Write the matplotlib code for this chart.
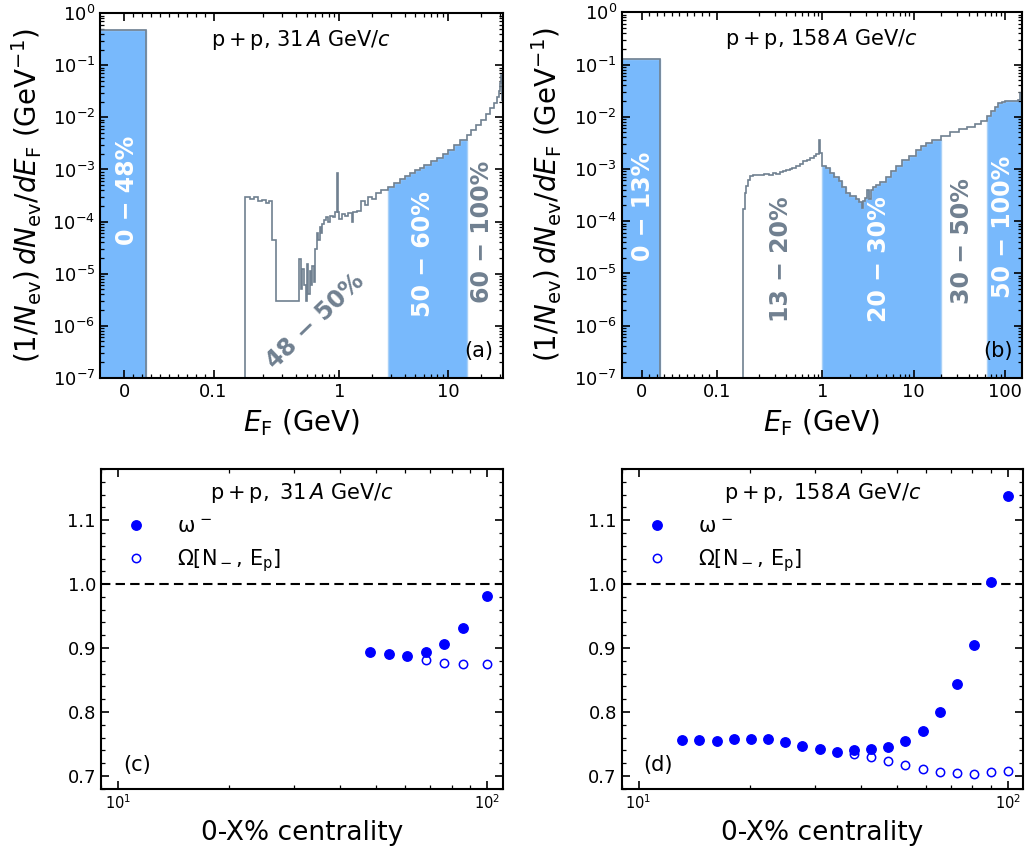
import numpy as np
import matplotlib
matplotlib.use("Agg")
import matplotlib.pyplot as plt
from matplotlib import ticker

# ---------------- data ----------------
# panel (a): p+p 31A GeV/c, histogram of E_F (bin edges, densities)
edges_a = [-0.03, 0.0245, 0.137, 0.15, 0.165, 0.18, 0.195, 0.21, 0.225, 0.24, 0.259,
           0.43, 0.44, 0.455, 0.47, 0.49, 0.505, 0.52, 0.535, 0.55, 0.565, 0.58, 0.6,
           0.62, 0.64, 0.66, 0.68, 0.70, 0.73, 0.76, 0.79, 0.83, 0.87, 0.91, 0.945,
           0.975, 1.0, 1.05, 1.12, 1.2, 1.3, 1.35, 1.45, 1.6, 1.73, 1.85, 2.0, 2.2,
           2.45, 2.82, 3.2, 3.6, 4.0, 4.5, 5.0, 5.5, 6.0, 7.0, 8.0, 9.0, 10.0, 11.5,
           13.0, 14.9, 16.5, 18.0, 20.0, 22.3, 24.5, 26.6, 28.5, 29.7, 30.5, 31.2,
           31.7, 40.0]
dens_a = [0.48, 1e-9, 3.0e-4, 2.7e-4, 2.9e-4, 2.5e-4, 2.6e-4, 2.3e-4, 2.5e-4, 4.5e-5,
          3.0e-6, 1.9e-5, 5e-6, 1.2e-5, 6e-6, 3e-6, 1.5e-5, 4e-6, 1.1e-5, 6e-6, 1.4e-5,
          7e-6, 3e-5, 6e-5, 4.5e-5, 8e-5, 6e-5, 9e-5, 1.05e-4, 1.2e-4, 1.0e-4, 1.3e-4,
          1.25e-4, 1.5e-4, 8.6e-4, 1.5e-4, 1.1e-4, 1.4e-4, 1.3e-4, 1.45e-4, 1.0e-4,
          1.55e-4, 1.6e-4, 2.5e-4, 2.1e-4, 2.9e-4, 2.7e-4, 3.6e-4, 4.1e-4, 4.7e-4,
          5.6e-4, 6.5e-4, 7.4e-4, 8.5e-4, 9.6e-4, 1.05e-3, 1.2e-3, 1.45e-3, 1.7e-3,
          2.0e-3, 2.4e-3, 2.9e-3, 3.7e-3, 4.6e-3, 5.8e-3, 7.2e-3, 9.0e-3, 0.0115,
          0.015, 0.019, 0.025, 0.032, 0.045, 0.065, 0.022]
bands_a = [(-1.0, 0.0245), (2.82, 14.9)]
band_labels_a = ["0 − 48%", "48 − 50%", "50 − 60%", "60 − 100%"]

# panel (b): p+p 158A GeV/c
edges_b = [-0.03, 0.0245, 0.135, 0.1406, 0.1467, 0.153, 0.159, 0.175, 0.2, 0.23, 0.26,
           0.29, 0.31, 0.34, 0.37, 0.40, 0.44, 0.47, 0.52, 0.57, 0.62, 0.68, 0.74, 0.8,
           0.86, 0.92, 0.95, 1.0, 1.1, 1.2, 1.35, 1.52, 1.65, 1.8, 2.0, 2.32, 2.5, 2.74,
           2.81, 2.9, 3.1, 3.2, 3.38, 3.6, 3.83, 4.3, 4.93, 5.6, 6.34, 7.5, 8.86, 10.5,
           12.0, 13.5, 16.0, 19.8, 25.0, 31.0, 38.0, 47.0, 55.0, 63.0, 70.0, 78.0, 85.0,
           92.0, 100.0, 109.0, 125.0, 140.0, 146.0, 200.0]
dens_b = [0.13, 1e-9, 1.7e-4, 3.4e-4, 4.7e-4, 6.1e-4, 7.2e-4, 7.8e-4, 7.5e-4, 7.9e-4,
          7.7e-4, 8.3e-4, 7.9e-4, 8.6e-4, 9.0e-4, 9.4e-4, 9.8e-4, 1.05e-3, 1.15e-3,
          1.25e-3, 1.4e-3, 1.5e-3, 1.6e-3, 1.8e-3, 1.9e-3, 3.6e-3, 2.0e-3, 1.15e-3,
          1.05e-3, 8.5e-4, 7.0e-4, 5.8e-4, 4.6e-4, 3.4e-4, 3.0e-4, 2.6e-4, 2.3e-4,
          1.8e-4, 2.4e-4, 2.8e-4, 3.9e-4, 2.7e-4, 4.0e-4, 4.6e-4, 4.9e-4, 5.6e-4,
          7.0e-4, 9.0e-4, 1.15e-3, 1.45e-3, 1.8e-3, 2.3e-3, 2.7e-3, 3.1e-3, 3.6e-3,
          4.3e-3, 5.0e-3, 5.7e-3, 6.4e-3, 7.2e-3, 8.4e-3, 1.05e-2, 1.3e-2, 1.55e-2,
          1.8e-2, 1.95e-2, 2.0e-2, 2.0e-2, 2.0e-2, 2.1e-2, 2.8e-2]
bands_b = [(-1.0, 0.0245), (1.0, 19.8), (63.0, 1000.0)]
band_labels_b = ["0 − 13%", "13 − 20%", "20 − 30%", "30 − 50%", "50 − 100%"]

xticks_a = [0, 0.1, 1, 10]
xticklabels_a = ["0", "0.1", "1", "10"]
xticks_b = [0, 0.1, 1, 10, 100]
xticklabels_b = ["0", "0.1", "1", "10", "100"]

# panel (c): 31A GeV/c
cent_31 = [48.0, 54.3, 60.8, 68.2, 76.5, 86.0, 100.0]
omega_31 = [0.894, 0.891, 0.888, 0.894, 0.907, 0.932, 0.981]
cent_31_O = [68.2, 76.5, 86.0, 100.0]
Omega_31 = [0.881, 0.877, 0.875, 0.875]

# panel (d): 158A GeV/c
cent_158 = [13.1, 14.6, 16.3, 18.1, 20.1, 22.4, 24.9, 27.7, 30.9, 34.4, 38.3, 42.6,
            47.4, 52.7, 58.7, 65.4, 72.7, 80.9, 89.9, 100.0]
omega_158 = [0.756, 0.756, 0.755, 0.758, 0.758, 0.758, 0.753, 0.747, 0.742, 0.7375,
             0.740, 0.742, 0.746, 0.755, 0.771, 0.7995, 0.843, 0.904, 1.004, 1.137]
cent_158_O = [38.3, 42.6, 47.4, 52.7, 58.7, 65.4, 72.7, 80.9, 89.9, 100.0]
Omega_158 = [0.734, 0.730, 0.723, 0.717, 0.711, 0.706, 0.705, 0.703, 0.706, 0.708]

titles_top = [r"$\mathrm{p+p}$, 31$\,A$ GeV/$c$", r"$\mathrm{p+p}$, 158$\,A$ GeV/$c$"]
titles_bot = [r"$\mathrm{p+p},\ 31\,A$ GeV/$c$", r"$\mathrm{p+p},\ 158\,A$ GeV/$c$"]
legend_labels = [r"$\mathrm{\omega}^{\,-}$", r"$\mathrm{\Omega[N_-,\,E_p]}$"]

# ---------------- style ----------------
BLUE = "#78b9fc"
BLUE_EDGE = "#a8d0f7"
GRAY = "#708090"

fig = plt.figure(figsize=(10.29, 8.49), dpi=100)


def style_ticks(ax, lsize=13):
    ax.tick_params(which="both", direction="in", top=True, right=True)
    ax.tick_params(which="major", length=6, width=1.2, labelsize=lsize)
    ax.tick_params(which="minor", length=3, width=0.9)
    for s in ax.spines.values():
        s.set_linewidth(1.5)


def clip_hist(edges, vals, lo, hi):
    e = np.asarray(edges, float)
    v = np.asarray(vals, float)
    keep = (e[1:] > lo) & (e[:-1] < hi)
    v2 = v[keep]
    e2 = np.concatenate([e[:-1][keep], [e[1:][keep][-1]]])
    return np.clip(e2, lo, hi), v2


def top_panel(rect, edges, dens, bands, xlim, xt, xtl, title, tag):
    ax = fig.add_axes(rect)
    ax.set_xscale("symlog", linthresh=0.135, linscale=1.0)
    ax.set_yscale("log")
    for lo, hi in bands:
        e2, v2 = clip_hist(edges, dens, lo, hi)
        ax.stairs(v2, e2, fill=True, baseline=1e-12, facecolor=BLUE,
                  edgecolor=BLUE_EDGE, linewidth=1.0, zorder=1)
    ax.stairs(dens, edges, baseline=None, color=GRAY, linewidth=1.2, zorder=2)
    ax.set_xlim(*xlim)
    ax.set_ylim(1e-7, 1)
    ax.xaxis.set_major_locator(ticker.FixedLocator(xt))
    ax.xaxis.set_major_formatter(ticker.FixedFormatter(xtl))
    minors = list(np.arange(1, 10) * 0.01) + list(np.arange(2, 10) * 0.1) + \
        list(np.arange(2, 10) * 1.0) + list(np.arange(2, 10) * 10.0)
    ax.xaxis.set_minor_locator(ticker.FixedLocator(minors))
    ax.xaxis.set_minor_formatter(ticker.NullFormatter())
    ax.yaxis.set_major_locator(ticker.LogLocator(base=10, numticks=20))
    ax.yaxis.set_minor_locator(ticker.LogLocator(base=10, subs=np.arange(2, 10), numticks=100))
    ax.yaxis.set_minor_formatter(ticker.NullFormatter())
    style_ticks(ax, 13)
    ax.set_xlabel(r"$E_\mathrm{F}$ (GeV)", fontsize=20)
    ax.xaxis.set_label_coords(0.5, -0.08)
    ax.set_ylabel(r"$(1/N_\mathrm{ev})\,dN_\mathrm{ev}/dE_\mathrm{F}$ (GeV$^{-1}$)", fontsize=20)
    ax.text(0.5, 0.927, title, transform=ax.transAxes, ha="center", va="center", fontsize=15)
    ax.text(0.94, 0.073, tag, transform=ax.transAxes, ha="center", va="center", fontsize=15)
    return ax


axA = top_panel([0.0972, 0.5551, 0.3913, 0.4292], edges_a, dens_a, bands_a,
                (-0.027, 32.0), xticks_a, xticklabels_a, titles_top[0], "(a)")
axA.yaxis.set_label_coords(-0.138, 0.5)
posA = [(0.067, 0.515, 90, "white"), (0.534, 0.156, 44, GRAY),
        (0.803, 0.339, 90, "white"), (0.948, 0.401, 90, GRAY)]
for lab, (px, py, rot, col) in zip(band_labels_a, posA):
    axA.text(px, py, lab, transform=axA.transAxes, rotation=rot, rotation_mode="anchor",
             ha="center", va="center", color=col, fontsize=17, fontweight="bold")

axB = top_panel([0.6042, 0.5551, 0.3893, 0.4304], edges_b, dens_b, bands_b,
                (-0.0265, 155.0), xticks_b, xticklabels_b, titles_top[1], "(b)")
axB.yaxis.set_label_coords(-0.145, 0.5)
posB = [(0.054, 0.470, 90, "white"), (0.397, 0.325, 90, GRAY),
        (0.643, 0.325, 90, "white"), (0.849, 0.375, 90, GRAY),
        (0.953, 0.413, 90, "white")]
for lab, (px, py, rot, col) in zip(band_labels_b, posB):
    axB.text(px, py, lab, transform=axB.transAxes, rotation=rot, rotation_mode="anchor",
             ha="center", va="center", color=col, fontsize=17, fontweight="bold")


def bot_panel(rect, xf, yf, xo, yo, title, tag):
    ax = fig.add_axes(rect)
    ax.set_xscale("log")
    ax.axhline(1.0, color="k", ls="--", lw=1.5, dashes=(4.5, 2.5), zorder=1)
    ax.plot(xf, yf, "o", color="blue", ms=6.8, mew=1.0, label=legend_labels[0], zorder=3)
    ax.plot(xo, yo, "o", mfc="none", mec="blue", ms=6.0, mew=1.1, label=legend_labels[1], zorder=3)
    ax.set_xlim(9, 110)
    ax.set_ylim(0.68, 1.18)
    ax.yaxis.set_major_locator(ticker.MultipleLocator(0.1))
    ax.yaxis.set_minor_locator(ticker.MultipleLocator(0.02))
    ax.yaxis.set_major_formatter(ticker.FormatStrFormatter("%.1f"))
    ax.xaxis.set_minor_locator(ticker.LogLocator(base=10, subs=np.arange(2, 10), numticks=100))
    ax.xaxis.set_minor_formatter(ticker.NullFormatter())
    style_ticks(ax, 13)
    ax.tick_params(axis="x", which="major", labelsize=10.5)
    ax.set_xlabel("0-X% centrality", fontsize=19)
    ax.xaxis.set_label_coords(0.5, -0.098)
    ax.text(0.5, 0.924, title, transform=ax.transAxes, ha="center", va="center", fontsize=15)
    ax.text(0.09, 0.074, tag, transform=ax.transAxes, ha="center", va="center", fontsize=15)
    ax.legend(loc="upper left", bbox_to_anchor=(0.041, 0.877), frameon=False, fontsize=15,
              handlelength=1.0, handletextpad=1.45, borderaxespad=0.0, labelspacing=0.5,
              numpoints=1)
    return ax


bot_panel([0.0979, 0.0710, 0.3906, 0.3766], cent_31, omega_31, cent_31_O, Omega_31,
          titles_bot[0], "(c)")
bot_panel([0.6042, 0.0710, 0.3903, 0.3766], cent_158, omega_158, cent_158_O, Omega_158,
          titles_bot[1], "(d)")

fig.savefig("out.png", dpi=100)
